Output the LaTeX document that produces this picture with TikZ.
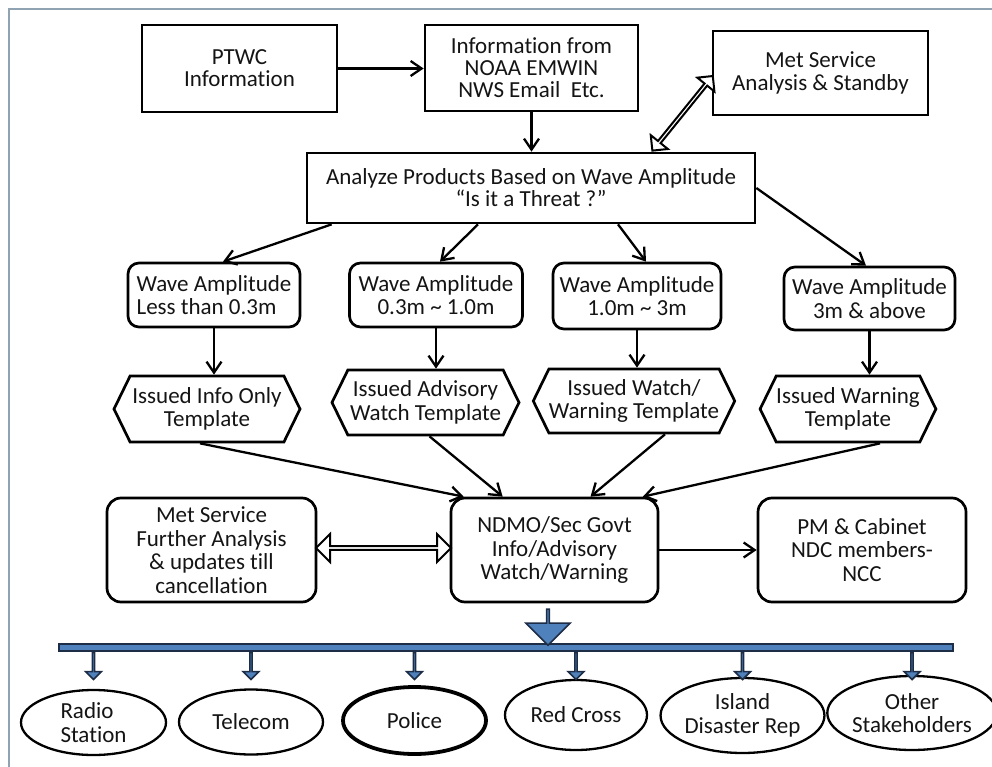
\documentclass[tikz,border=0pt]{standalone}
\usepackage{fontspec}
\setmainfont{Carlito}[Ligatures=NoCommon]
\usetikzlibrary{arrows.meta,shapes.geometric,shapes.symbols,shapes.arrows,calc}
\definecolor{framec}{RGB}{143,163,179}
\definecolor{barblue}{RGB}{79,129,189}
\definecolor{bardark}{RGB}{30,45,70}
\definecolor{inkc}{RGB}{20,20,20}

\begin{document}
\begin{tikzpicture}[x=1pt,y=-1pt,
  every node/.style={inner sep=0pt, align=center, text=inkc,
    font=\fontsize{23}{23.5}\selectfont},
  tightlines/.style={font=\fontsize{23}{22}\selectfont},
  sqbox/.style={draw=black, line width=2.7pt, rectangle},
  rbox/.style={sqbox, rounded corners=14pt},
  hexbox/.style={draw=black, line width=2.7pt, shape=signal,
    signal to=west and east, signal pointer angle=128},
  oval/.style={draw=black, line width=2.3pt, ellipse},
  flow/.style={line width=2.3pt,
    -{Straight Barb[length=11pt,width=15pt,line width=2.3pt]}},
  hollow/.style={draw=black, fill=white, line width=2pt, double arrow,
    double arrow head indent=0pt},
  bluedown/.style={draw=bardark, fill=barblue, line width=1.6pt, single arrow,
    single arrow head indent=0pt, shape border rotate=270},
]
\useasboundingbox (0,0) rectangle (992,767);

% outer frame
\draw[framec, line width=1.4pt] (9,767) -- (9,9) -- (992,9);

% top row
\node[sqbox, tightlines, minimum width=195, minimum height=87] (ptwc) at (239.5,68.5) {PTWC\\Information};
\node[sqbox, tightlines, minimum width=213, minimum height=86] (noaa) at (531.5,68) {Information from\\NOAA EMWIN\\NWS Email\ \ Etc.};
\node[sqbox, minimum width=215, minimum height=84] (met) at (820.5,73) {Met Service\\Analysis \& Standby};
\node[sqbox, tightlines, minimum width=448, minimum height=70] (anl) at (531,188) {Analyze Products Based on Wave Amplitude\\“Is it a Threat ?”};

% wave amplitude classes
\node[rbox, rounded corners=11pt, align=left, minimum width=172, minimum height=64] (w1) at (214,295) {Wave Amplitude\\Less than 0.3m};
\node[rbox, rounded corners=11pt, minimum width=173, minimum height=64] (w2) at (436,295) {Wave Amplitude\\0.3m \textasciitilde{} 1.0m};
\node[rbox, rounded corners=11pt, minimum width=168, minimum height=66] (w3) at (637,296) {Wave Amplitude\\1.0m \textasciitilde{} 3m};
\node[rbox, rounded corners=11pt, minimum width=171, minimum height=63] (w4) at (869.5,298.5) {Wave Amplitude\\3m \& above};

% templates
\node[hexbox, minimum width=186, minimum height=66] (h1) at (207,409) {Issued Info Only\\Template};
\node[hexbox, minimum width=187, minimum height=65] (h2) at (425.5,402.5) {Issued Advisory\\Watch Template};
\node[hexbox, minimum width=187, minimum height=64] (h3) at (634,401) {Issued Watch/\\Warning Template};
\node[hexbox, minimum width=175, minimum height=66] (h4) at (848,409) {Issued Warning\\Template};

% coordination row
\node[rbox, minimum width=209, minimum height=104] (further) at (211.5,550) {Met Service\\Further Analysis\\\& updates till\\cancellation};
\node[rbox, minimum width=207, minimum height=104] (ndmo) at (554.5,550) {NDMO/Sec Govt\\Info/Advisory\\Watch/Warning};
\node[rbox, minimum width=208, minimum height=104] (pm) at (862,550) {PM \& Cabinet\\NDC members-\\NCC};

% distribution bar
\node[draw=bardark, fill=barblue, line width=1.6pt, minimum width=894, minimum height=7] (bar) at (506,647.5) {};
\node[bluedown, anchor=tail, minimum height=36, minimum width=44, single arrow head extend=12pt] (big) at ($(ndmo.south)+(-6.5,5)$) {};

% recipients
\node[oval, align=left, minimum width=145, minimum height=65] (radio) at (93.5,722.5) {Radio\\Station};
\node[oval, minimum width=144, minimum height=65] (telecom) at (251,722) {Telecom};
\node[oval, line width=3.8pt, minimum width=143, minimum height=67] (police) at (414.5,720.5) {Police};
\node[oval, minimum width=142, minimum height=70] (redcross) at (576,715) {Red Cross};
\node[oval, minimum width=161, minimum height=75] (island) at (742.5,715.5) {Island\\Disaster Rep};
\node[oval, minimum width=150, minimum height=74] (other) at (912,713) {Other\\Stakeholders};

\foreach \r in {radio,telecom,police,redcross,island,other}
  \node[bluedown, anchor=tail, minimum height=27, minimum width=16, single arrow head extend=5pt] (d-\r) at (\r.north |- bar.south) {};

% connectors
\draw[flow] (ptwc.east) -- (ptwc.east -| noaa.west);
\draw[flow] (noaa.south) -- (noaa.south |- anl.north);
\coordinate (dtail) at ($(anl.north)+(122,-2)$);
\coordinate (dhead) at ($(met.west)+(0.5,4)$);
\node[hollow, rotate=51, minimum height=96, minimum width=22, double arrow head extend=5.5pt] (link1) at ($(dtail)!0.5!(dhead)$) {};

\draw[flow] ($(anl.south west)+(26,0)$) -- ($(w1.north)+(9,0)$);
\draw[flow] ($(anl.south)+(-53,0)$) -- ($(w2.north)+(4,0)$);
\draw[flow] ($(anl.south)+(87,0)$) -- ($(w3.north)+(9,0)$);
\draw[flow] (anl.east) -- ($(w4.north)+(-3.5,0)$);

\draw[flow] (w1.south) -- (w1.south |- h1.north);
\draw[flow] (w2.south) -- (w2.south |- h2.north);
\draw[flow] (w3.south) -- (w3.south |- h3.north);
\draw[flow] (w4.south) -- (w4.south |- h4.north);

\draw[flow] ($(h1.south)+(-7,0)$) -- ($(ndmo.north west)+(14,0)$);
\draw[flow] ($(h2.south)+(4,0)$) -- ($(ndmo.north west)+(53,0)$);
\draw[flow] ($(h3.south)+(31,0)$) -- ($(ndmo.north)+(36,0)$);
\draw[flow] ($(h4.south)+(32,0)$) -- ($(ndmo.north east)+(-16.5,0)$);

\node[hollow, minimum height=135, minimum width=28, double arrow head extend=6.5pt] (link2) at ($(further.east)!0.5!(ndmo.west)+(0,-2)$) {};
\draw[flow] (ndmo.east) -- (pm.west);
\end{tikzpicture}
\end{document}
